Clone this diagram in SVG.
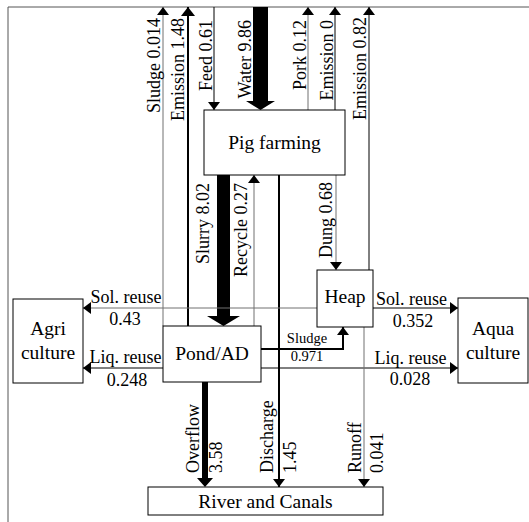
<svg xmlns="http://www.w3.org/2000/svg" width="529" height="522" viewBox="0 0 529 522">
<style>
.box{fill:#fff;stroke:#000;stroke-width:1}
text{font-family:'Liberation Serif','DejaVu Serif',serif;fill:#000}
.nt{font-size:19.5px;text-anchor:middle}
.lb{font-size:18px}
.sm{font-size:14.5px;text-anchor:middle}
.g{stroke:#707070;stroke-width:1;fill:none}
.k{stroke:#000;stroke-width:1;fill:none}
.k2{stroke:#000;stroke-width:2;fill:none}
.thick{fill:#000;stroke:none}
</style>
<defs>
<marker id="ah" markerWidth="8" markerHeight="12" refX="8" refY="6" orient="auto" markerUnits="userSpaceOnUse"><path d="M0,0 L8,6 L0,12 z" fill="#000"/></marker>
<marker id="ah2" markerWidth="9" markerHeight="14" refX="9" refY="7" orient="auto" markerUnits="userSpaceOnUse"><path d="M0,0 L9,7 L0,14 z" fill="#000"/></marker>
</defs>
<rect width="529" height="522" fill="#fff"/>
<g id="frame">
<path d="M8,522 V7 H529" fill="none" stroke="#555" stroke-width="1"/>
</g>
<g id="connectors">
<line class="g" x1="163" y1="326" x2="163" y2="7" marker-end="url(#ah)"/>
<line class="k2" x1="188" y1="326" x2="188" y2="7" marker-end="url(#ah2)"/>
<line class="k" x1="214" y1="7" x2="214" y2="110" marker-end="url(#ah)"/>
<polygon class="thick" points="253,7 268,7 268,101 275,101 260.5,110 246,101 253,101"/>
<line class="g" x1="308" y1="110" x2="308" y2="7" marker-end="url(#ah)"/>
<line class="k" x1="335" y1="110" x2="335" y2="7" marker-end="url(#ah)"/>
<line class="k" x1="369" y1="270" x2="369" y2="7" marker-end="url(#ah)"/>
<polygon class="thick" points="217,175 230,175 230,316 240,316 223.5,326 207,316 217,316"/>
<line class="g" x1="254" y1="326" x2="254" y2="175" marker-end="url(#ah)"/>
<line class="k2" x1="279" y1="175" x2="279" y2="487" marker-end="url(#ah)"/>
<line class="g" x1="336" y1="175" x2="336" y2="270" marker-end="url(#ah)"/>
<line class="g" x1="317" y1="308" x2="83" y2="308" marker-end="url(#ah)"/>
<line class="k" x1="163" y1="368" x2="83" y2="368" marker-end="url(#ah)"/>
<line class="k" x1="373" y1="308" x2="458" y2="308" marker-end="url(#ah)"/>
<line class="k" x1="261" y1="368" x2="458" y2="368" marker-end="url(#ah)"/>
<polyline class="k2" points="261,349 343,349 343,327" marker-end="url(#ah)"/>
<polygon class="thick" points="202,382 208,382 208,478 213,478 205,487 197,478 202,478"/>
<line class="g" x1="364" y1="327" x2="364" y2="487" marker-end="url(#ah)"/>
</g>
<g id="labels">
<text class="lb" text-anchor="end" transform="translate(160,18) rotate(-90)">Sludge 0.014</text>
<text class="lb" text-anchor="end" transform="translate(184,18) rotate(-90)">Emission 1.48</text>
<text class="lb" text-anchor="end" transform="translate(212,20) rotate(-90)">Feed 0.61</text>
<text class="lb" text-anchor="end" transform="translate(251,20) rotate(-90)">Water 9.86</text>
<text class="lb" text-anchor="end" transform="translate(306,20) rotate(-90)">Pork 0.12</text>
<text class="lb" text-anchor="end" transform="translate(333,20) rotate(-90)">Emission 0</text>
<text class="lb" text-anchor="end" transform="translate(366,17) rotate(-90)">Emission 0.82</text>
<text class="lb" text-anchor="end" transform="translate(209,183) rotate(-90)">Slurry 8.02</text>
<text class="lb" text-anchor="end" transform="translate(247,183) rotate(-90)">Recycle 0.27</text>
<text class="lb" text-anchor="end" transform="translate(332,182) rotate(-90)">Dung 0.68</text>
<text class="lb" transform="translate(199,473) rotate(-90)">Overflow</text>
<text class="lb" transform="translate(222,473) rotate(-90)">3.58</text>
<text class="lb" transform="translate(273,473) rotate(-90)">Discharge</text>
<text class="lb" transform="translate(296,473) rotate(-90)">1.45</text>
<text class="lb" transform="translate(361,473) rotate(-90)">Runoff</text>
<text class="lb" transform="translate(383,473) rotate(-90)">0.041</text>
<text class="lb" text-anchor="middle" x="126" y="303">Sol. reuse</text>
<text class="lb" text-anchor="middle" x="125" y="325">0.43</text>
<text class="lb" text-anchor="middle" x="125.5" y="363">Liq. reuse</text>
<text class="lb" text-anchor="middle" x="127" y="386">0.248</text>
<text class="lb" text-anchor="middle" x="411.5" y="305">Sol. reuse</text>
<text class="lb" text-anchor="middle" x="413" y="327">0.352</text>
<text class="lb" text-anchor="middle" x="410.5" y="364">Liq. reuse</text>
<text class="lb" text-anchor="middle" x="410" y="385">0.028</text>
<text class="sm" x="307" y="343">Sludge</text>
<text class="sm" x="307" y="361">0.971</text>
</g>
<g id="pig-farming">
<rect class="box" x="204" y="110" width="141" height="65"/>
<text class="nt" x="274.5" y="148.5">Pig farming</text>
</g>
<g id="pond-ad">
<rect class="box" x="163" y="326" width="98" height="56"/>
<text class="nt" x="212" y="360">Pond/AD</text>
</g>
<g id="heap">
<rect class="box" x="317" y="270" width="56" height="57"/>
<text class="nt" x="345" y="303">Heap</text>
</g>
<g id="agriculture">
<rect class="box" x="13" y="299" width="70" height="84"/>
<text class="nt" x="48" y="335">Agri</text>
<text class="nt" x="48" y="359">culture</text>
</g>
<g id="aquaculture">
<rect class="box" x="458" y="298" width="70" height="85"/>
<text class="nt" x="493" y="335">Aqua</text>
<text class="nt" x="493" y="359">culture</text>
</g>
<g id="river-canals">
<rect class="box" x="148" y="487" width="235" height="28"/>
<text class="nt" x="265.5" y="508">River and Canals</text>
</g>
</svg>
